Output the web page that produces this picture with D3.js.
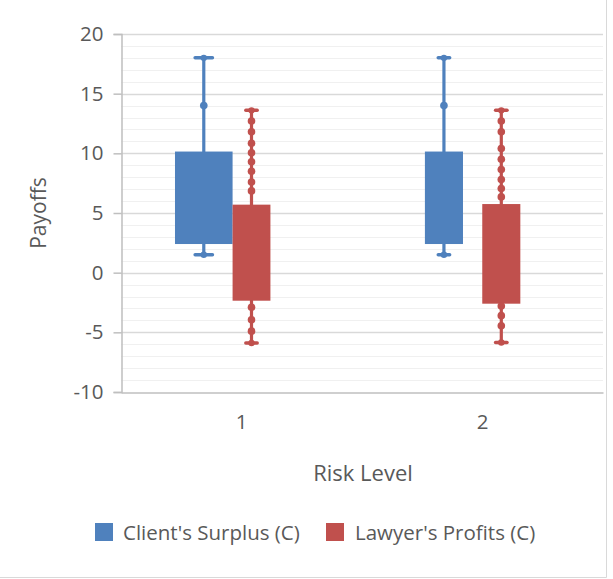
<!DOCTYPE html>
<html>
<head>
<meta charset="utf-8">
<script src="https://cdn.jsdelivr.net/npm/d3@7"></script>
<style>
  html, body { margin: 0; padding: 0; background: #fff; }
  svg { display: block; }
  text { font-family: "Open Sans", sans-serif; fill: #595959; }
</style>
</head>
<body>
<svg id="chart" width="613" height="579"></svg>
<script>
// ---- data ----
const categories = ["1", "2"];
const seriesNames = ["Client's Surplus (C)", "Lawyer's Profits (C)"];
const yTicks = [-10, -5, 0, 5, 10, 15, 20];

const clientMin = [1.5, 1.5];
const clientQ1 = [2.4, 2.4];
const clientQ3 = [10.15, 10.15];
const clientMax = [18, 18];
const clientPoints = [[14], [14]];

const lawyerMin = [-5.9, -5.85];
const lawyerQ1 = [-2.35, -2.6];
const lawyerQ3 = [5.7, 5.75];
const lawyerMax = [13.6, 13.6];
const lawyerPoints = [
  [12.7, 11.8, 10.85, 10.05, 9.3, 8.5, 7.6, 6.85, -2.9, -3.95, -4.9],
  [12.7, 11.8, 10.4, 9.5, 8.65, 7.8, 7.05, 6.35, -2.8, -3.6, -4.45]
];

// ---- layout / style (not data) ----
const colors = ["#4F81BD", "#C0504D"];
// box extents as fractions of each category band
const boxFrac = [
  [[0.224, 0.463], [0.463, 0.620]],
  [[0.261, 0.419], [0.499, 0.657]]
];

const svg = d3.select("#chart");
const plot = { left: 121, right: 603, top: 34, bottom: 392 };

const x = d3.scaleBand().domain(categories).range([plot.left, plot.right]).padding(0);
const y = d3.scaleLinear().domain([-10, 20]).range([plot.bottom, plot.top]);

// chart border (right/bottom)
svg.append("line").attr("x1", 606.5).attr("x2", 606.5).attr("y1", 0).attr("y2", 577.5)
  .attr("stroke", "#d9d9d9");
svg.append("line").attr("x1", 0).attr("x2", 606.5).attr("y1", 577.5).attr("y2", 577.5)
  .attr("stroke", "#d9d9d9");

// minor gridlines
const minor = d3.range(-10, 21, 1).filter(v => v % 5 !== 0);
svg.append("g").selectAll("line").data(minor).join("line")
  .attr("x1", plot.left).attr("x2", plot.right)
  .attr("y1", d => Math.round(y(d)) + 0.5).attr("y2", d => Math.round(y(d)) + 0.5)
  .attr("stroke", "#f0f0f0").attr("stroke-width", 1);

// major gridlines
svg.append("g").selectAll("line").data(yTicks.filter(v => v !== -10)).join("line")
  .attr("x1", plot.left).attr("x2", plot.right)
  .attr("y1", d => Math.round(y(d)) + 0.5).attr("y2", d => Math.round(y(d)) + 0.5)
  .attr("stroke", "#d9d9d9").attr("stroke-width", 1.5);

// y axis
const yAxis = d3.axisLeft(y).tickValues(yTicks).tickSize(8).tickPadding(10).tickFormat(d3.format("d"));
const gy = svg.append("g").attr("transform", `translate(${plot.left + 0.5},0)`).call(yAxis);
gy.select(".domain").attr("stroke", "#bfbfbf").attr("stroke-width", 1.5);
gy.selectAll(".tick line").attr("stroke", "#bfbfbf").attr("stroke-width", 1.5);
gy.selectAll(".tick text").style("font-size", "20.5px").attr("fill", "#595959")
  .text(d => d < 0 ? "-" + Math.abs(d) : d);

// x axis
const xAxis = d3.axisBottom(x).tickSize(0).tickPadding(22);
const gx = svg.append("g").attr("transform", `translate(0,${plot.bottom + 0.5})`).call(xAxis);
gx.select(".domain").attr("stroke", "#bfbfbf").attr("stroke-width", 1.5);
gx.selectAll(".tick text").style("font-size", "20.5px").attr("fill", "#595959");

// axis titles
svg.append("text").attr("x", (plot.left + plot.right) / 2 + 1).attr("y", 481)
  .attr("text-anchor", "middle").style("font-size", "22px").text("Risk Level");
svg.append("text").attr("transform", `translate(46,${(plot.top + plot.bottom) / 2}) rotate(-90)`)
  .attr("text-anchor", "middle").style("font-size", "21px").text("Payoffs");

// boxes
const seriesData = [
  { min: clientMin, q1: clientQ1, q3: clientQ3, max: clientMax, pts: clientPoints },
  { min: lawyerMin, q1: lawyerQ1, q3: lawyerQ3, max: lawyerMax, pts: lawyerPoints }
];

const boxes = [];
categories.forEach((c, ci) => {
  seriesData.forEach((s, si) => {
    boxes.push({ c, ci, si, min: s.min[ci], q1: s.q1[ci], q3: s.q3[ci], max: s.max[ci], pts: s.pts[ci] });
  });
});

const bw = x.bandwidth();
const g = svg.append("g");
boxes.forEach(b => {
  const x0 = x(b.c) + boxFrac[b.ci][b.si][0] * bw;
  const x1 = x(b.c) + boxFrac[b.ci][b.si][1] * bw;
  const cx = (x0 + x1) / 2;
  const capW = (x1 - x0) * 0.3;
  const col = colors[b.si];
  // whisker line
  g.append("line").attr("x1", cx).attr("x2", cx).attr("y1", y(b.max)).attr("y2", y(b.min))
    .attr("stroke", col).attr("stroke-width", 3.2);
  // caps
  [b.max, b.min].forEach(v => {
    g.append("line").attr("x1", cx - capW / 2).attr("x2", cx + capW / 2)
      .attr("y1", y(v)).attr("y2", y(v))
      .attr("stroke", col).attr("stroke-width", 3.5).attr("stroke-linecap", "round");
    g.append("circle").attr("cx", cx).attr("cy", y(v)).attr("r", 3.2).attr("fill", col);
  });
  // box
  g.append("rect").attr("x", x0).attr("width", x1 - x0)
    .attr("y", y(b.q3)).attr("height", y(b.q1) - y(b.q3))
    .attr("fill", col);
  // points
  g.selectAll(null).data(b.pts).join("circle")
    .attr("cx", cx).attr("cy", d => y(d)).attr("r", 3.8).attr("fill", col);
});

// legend
const legendItems = [
  { name: seriesNames[0], color: colors[0], x: 95, tx: 123 },
  { name: seriesNames[1], color: colors[1], x: 326, tx: 355 }
];
const lg = svg.append("g");
legendItems.forEach(it => {
  lg.append("rect").attr("x", it.x).attr("y", 523).attr("width", 18).attr("height", 18).attr("fill", it.color);
  lg.append("text").attr("x", it.tx).attr("y", 540).style("font-size", "20.5px").text(it.name);
});
</script>
</body>
</html>
